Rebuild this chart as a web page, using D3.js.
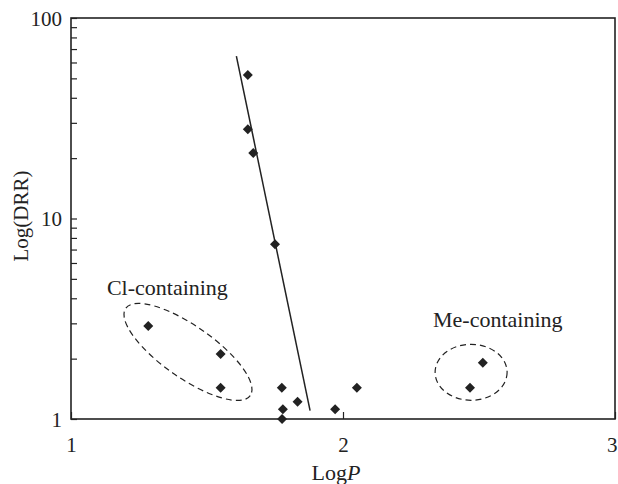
<!DOCTYPE html>
<html>
<head>
<meta charset="utf-8">
<script src="https://cdn.jsdelivr.net/npm/d3@7"></script>
<style>
  html, body { margin: 0; padding: 0; background: #fff; }
  svg { display: block; }
  text { font-family: "Liberation Serif", "Times New Roman", serif; fill: #222; }
</style>
</head>
<body>
<svg id="chart" width="618" height="484"></svg>
<script>
// ---- data ----
const logP = [1.650, 1.650, 1.670, 1.750, 1.284, 1.550, 1.550, 1.775, 1.779, 1.776, 1.833, 1.971, 2.051, 2.467, 2.514];
const drr  = [52.0, 27.9, 21.2, 7.44, 2.91, 2.11, 1.43, 1.43, 1.12, 1.00, 1.22, 1.12, 1.43, 1.43, 1.91];
const fitLineP   = [1.608, 1.879];
const fitLineDRR = [64.6, 1.10];
const groupNames   = ["Cl-containing", "Me-containing"];
const groupLabelP  = [1.132, 2.331];
const groupLabelDRR = [4.15, 2.88];
const groupCenterP  = [1.430, 2.471];
const groupCenterDRR = [2.16, 1.71];
const xTickValues = [1, 2, 3];
const yTickValues = [1, 2, 3, 4, 5, 6, 7, 8, 9, 10, 20, 30, 40, 50, 60, 70, 80, 90, 100];
const yTickLabels = [1, 10, 100];

// ---- layout ----
const W = 618, H = 484;
const m = { left: 71, top: 18, right: 3, bottom: 65 };
const iw = W - m.left - m.right, ih = H - m.top - m.bottom;
const ink = "#222";
const ellipseShape = [ { rx: 76, ry: 26, rot: 35 }, { rx: 36, ry: 28, rot: 0 } ];

const svg = d3.select("#chart");
const g = svg.append("g").attr("transform", `translate(${m.left},${m.top})`);

const x = d3.scaleLinear().domain([1, 3]).range([0, iw]);
const y = d3.scaleLog().domain([1, 100]).range([ih, 0]);

// axes
const yAxis = d3.axisLeft(y).tickValues(yTickValues).tickSize(-6).tickPadding(9)
  .tickFormat(d => yTickLabels.includes(d) ? String(d) : "");
const gy = g.append("g").call(yAxis);
gy.select(".domain").remove();
gy.selectAll(".tick line").attr("stroke", ink).attr("stroke-width", 1.2);
gy.selectAll(".tick text").attr("font-size", 21).attr("fill", ink).attr("dy", "0.34em");

const xAxis = d3.axisBottom(x).tickValues(xTickValues).tickSize(-7).tickPadding(18).tickFormat(d3.format("d"));
const gx = g.append("g").attr("transform", `translate(0,${ih})`).call(xAxis);
gx.select(".domain").remove();
gx.selectAll(".tick line").attr("stroke", ink).attr("stroke-width", 1.2);
gx.selectAll(".tick text").attr("font-size", 21).attr("fill", ink);
gx.selectAll(".tick text").filter(d => d === 3).attr("text-anchor", "end").attr("dx", 2);

// frame
g.append("rect").attr("x", 0).attr("y", 0).attr("width", iw).attr("height", ih)
  .attr("fill", "none").attr("stroke", ink).attr("stroke-width", 1.6);

// axis titles
const xt = svg.append("text").attr("x", 336).attr("y", 480).attr("text-anchor", "middle").attr("font-size", 22);
xt.append("tspan").text("Log");
xt.append("tspan").attr("font-style", "italic").text("P");

svg.append("text").attr("transform", "translate(28,216) rotate(-90)")
  .attr("text-anchor", "middle").attr("font-size", 21).text("Log(DRR)");

// regression line
g.append("line")
  .attr("x1", x(fitLineP[0])).attr("y1", y(fitLineDRR[0]))
  .attr("x2", x(fitLineP[1])).attr("y2", y(fitLineDRR[1]))
  .attr("stroke", ink).attr("stroke-width", 1.5);

// group ellipses + labels
groupNames.forEach((name, i) => {
  const cx = x(groupCenterP[i]), cy = y(groupCenterDRR[i]);
  const s = ellipseShape[i];
  g.append("ellipse")
    .attr("transform", `translate(${cx},${cy}) rotate(${s.rot})`)
    .attr("rx", s.rx).attr("ry", s.ry)
    .attr("fill", "none").attr("stroke", ink).attr("stroke-width", 1.2)
    .attr("stroke-dasharray", "6,4");
  g.append("text").attr("x", x(groupLabelP[i])).attr("y", y(groupLabelDRR[i]))
    .attr("font-size", 22).text(name);
});

// points
const diamond = d3.symbol().type(d3.symbolSquare).size(50);
g.selectAll("path.pt").data(logP.map((p, i) => [p, drr[i]])).enter()
  .append("path").attr("class", "pt")
  .attr("d", diamond)
  .attr("transform", d => `translate(${x(d[0])},${y(d[1])}) rotate(45)`)
  .attr("fill", ink);
</script>
</body>
</html>
